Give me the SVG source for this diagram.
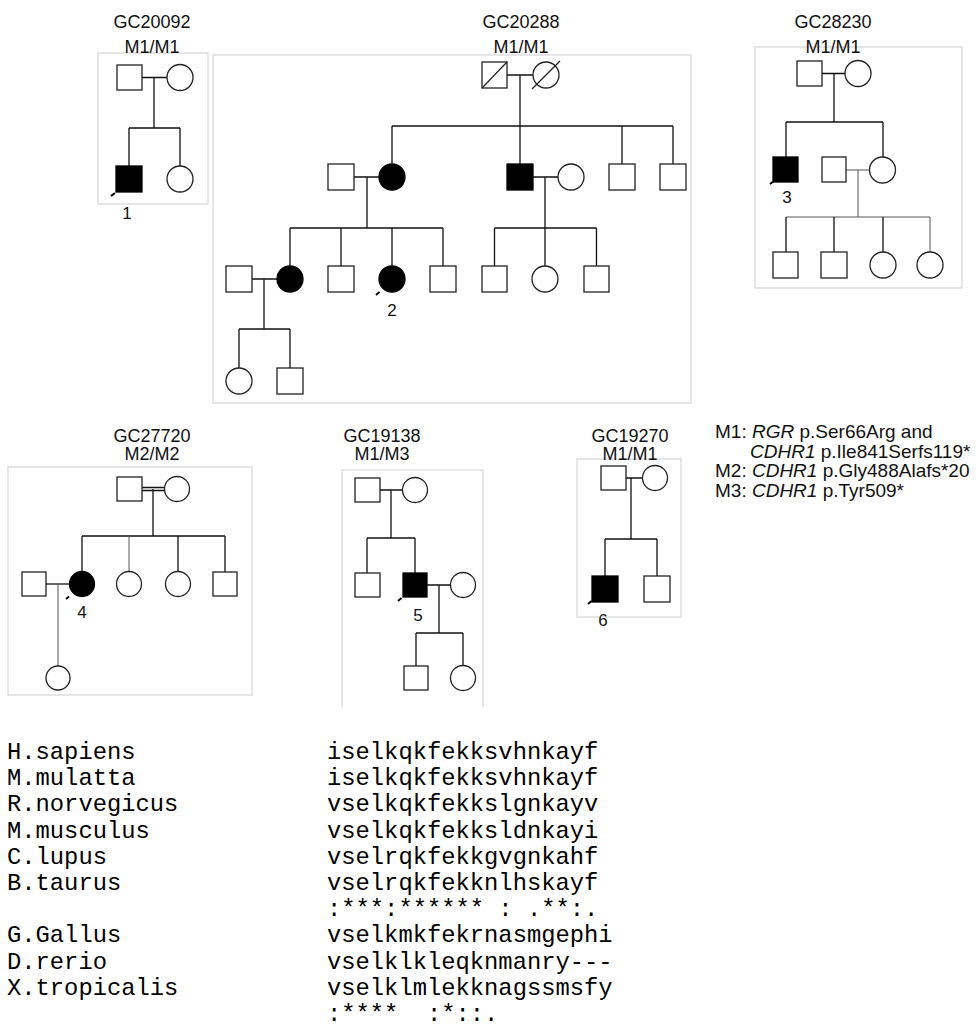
<svg xmlns="http://www.w3.org/2000/svg" width="979" height="1030" viewBox="0 0 979 1030">
<style>
.box{fill:none;stroke:#d6d6d6;stroke-width:1.2}
.sym{fill:#fff;stroke:#222;stroke-width:1.3}
.aff{fill:#000;stroke:#000;stroke-width:1.3}
.ln{fill:none;stroke:#111;stroke-width:1.3}
.thin{fill:none;stroke:#555;stroke-width:1}
.dec{fill:none;stroke:#222;stroke-width:1.2}
.arr{fill:none;stroke:#000;stroke-width:2}
.t{font-family:"Liberation Sans",Arial,sans-serif;font-size:18px;fill:#111;text-anchor:middle}
.lab{font-family:"Liberation Sans",Arial,sans-serif;font-size:17px;fill:#111;text-anchor:middle}
.leg{font-family:"Liberation Sans",Arial,sans-serif;font-size:19px;fill:#111}
.mono{font-family:"Liberation Mono","Courier New",monospace;font-size:23.8px;fill:#000}
</style>
<rect width="979" height="1030" fill="#fff"/>

<!-- Family boxes and titles -->
<g id="fam-GC20092">
<rect class="box" x="98" y="53" width="110" height="151"/>
<text class="t" x="152" y="28">GC20092</text>
<text class="t" x="152" y="53">M1/M1</text>
</g>
<g id="fam-GC20288">
<rect class="box" x="213" y="55" width="478" height="348"/>
<text class="t" x="521" y="28">GC20288</text>
<text class="t" x="521" y="53">M1/M1</text>
</g>
<g id="fam-GC28230">
<rect class="box" x="755" y="47" width="207" height="241"/>
<text class="t" x="833" y="28">GC28230</text>
<text class="t" x="833" y="53">M1/M1</text>
</g>
<g id="fam-GC27720">
<rect class="box" x="8" y="467" width="244" height="228"/>
<text class="t" x="152" y="441.5">GC27720</text>
<text class="t" x="152" y="459.5">M2/M2</text>
</g>
<g id="fam-GC19138">
<path class="box" d="M342 707 V470 H483 V707"/>
<text class="t" x="382" y="441.5">GC19138</text>
<text class="t" x="382" y="459.5">M1/M3</text>
</g>
<g id="fam-GC19270">
<rect class="box" x="577" y="459" width="104" height="158"/>
<text class="t" x="630" y="441.5">GC19270</text>
<text class="t" x="630" y="459.5">M1/M1</text>
</g>

<!-- Connectors -->
<g id="connectors">
<path class="ln" d="M142 77.5 H167 M154 77.5 V128 M129 128 H180 M129 128 V166 M180 128 V166"/>
<path class="ln" d="M507 75 H533 M520 75 V164 M392 126 H673 M392 126 V164 M622 126 V164 M673 126 V164"/>
<path class="ln" d="M354 177 H379 M367 177 V228 M290 228 H443 M290 228 V266 M341 228 V266 M392 228 V266 M443 228 V266"/>
<path class="ln" d="M533 177 H558 M545 177 V266 M494.5 228 H596.5 M494.5 228 V266 M596.5 228 V266"/>
<path class="ln" d="M252 279 H277 M264 279 V329 M239 329 H290 M239 329 V368 M290 329 V368"/>
<path class="ln" d="M822 73.5 H845 M834 73.5 V122 M786 122 H883 M786 122 V157 M883 122 V157"/>
<path class="thin" d="M846 170 H869.5 M858 170 V217 M786 217 H930"/>
<path class="ln" d="M786 217 V252 M834 217 V252 M883 217 V252"/>
<path class="thin" d="M930 217 V252"/>
<path class="ln" d="M142 487.5 H164.5 M142 490.5 H164.5"/>
<path class="ln" d="M153 489 V536 M82 536 H225 M82 536 V571.5 M178 536 V571.5 M225 536 V572"/>
<path class="thin" d="M129 536 V571.5"/>
<path class="ln" d="M46 584 H69.5"/>
<path class="thin" d="M58 584 V666"/>
<path class="ln" d="M380 490 H402.5 M391 490 V538 M367 538 H415 M367 538 V573 M415 538 V573"/>
<path class="ln" d="M427 585 H450.5 M439 585 V633 M416 633 H463 M416 633 V666 M463 633 V665.5"/>
<path class="ln" d="M626 478 H642.5 M631 478 V539 M605 539 H657 M605 539 V576 M657 539 V576"/>
</g>

<!-- Individuals: GC20092 -->
<g id="A1"><rect class="sym" x="117" y="65" width="25" height="25"/></g>
<g id="A2"><circle class="sym" cx="180" cy="77.5" r="13"/></g>
<g id="A3"><rect class="aff" x="116" y="166" width="26" height="26"/><path class="arr" d="M111 196 l4 -3"/><text class="lab" x="127" y="219">1</text></g>
<g id="A4"><circle class="sym" cx="180" cy="179" r="13"/></g>

<!-- GC20288 -->
<g id="B1"><rect class="sym" x="482" y="62" width="25" height="26"/><path class="dec" d="M482 88 L507 62"/></g>
<g id="B2"><circle class="sym" cx="546" cy="75" r="13"/><path class="dec" d="M532 89 L560 61"/></g>
<g id="B3"><rect class="sym" x="328" y="164" width="26" height="26"/></g>
<g id="B4"><circle class="aff" cx="392" cy="177" r="13"/></g>
<g id="B5"><rect class="aff" x="507" y="164" width="26" height="26"/></g>
<g id="B6"><circle class="sym" cx="571" cy="177" r="13"/></g>
<g id="B7"><rect class="sym" x="609" y="164" width="26" height="26"/></g>
<g id="B8"><rect class="sym" x="660" y="164" width="26" height="26"/></g>
<g id="B9"><rect class="sym" x="226" y="266" width="26" height="26"/></g>
<g id="B10"><circle class="aff" cx="290" cy="279" r="13"/></g>
<g id="B11"><rect class="sym" x="328" y="266" width="26" height="26"/></g>
<g id="B12"><circle class="aff" cx="392" cy="279" r="13"/><path class="arr" d="M376 295 l3.5 -3"/><text class="lab" x="392" y="316">2</text></g>
<g id="B13"><rect class="sym" x="430" y="266" width="26" height="26"/></g>
<g id="B14"><rect class="sym" x="482" y="266" width="25" height="26"/></g>
<g id="B15"><circle class="sym" cx="545" cy="279" r="13"/></g>
<g id="B16"><rect class="sym" x="584" y="266" width="25" height="26"/></g>
<g id="B17"><circle class="sym" cx="239" cy="381" r="13"/></g>
<g id="B18"><rect class="sym" x="277" y="368" width="26" height="26"/></g>

<!-- GC28230 -->
<g id="C1"><rect class="sym" x="797" y="61" width="25" height="25"/></g>
<g id="C2"><circle class="sym" cx="858" cy="73.5" r="13"/></g>
<g id="C3"><rect class="aff" x="773" y="157" width="25" height="25"/><path class="arr" d="M770 184 l4 -3"/><text class="lab" x="787" y="203">3</text></g>
<g id="C4"><rect class="sym" x="822" y="157" width="24" height="25"/></g>
<g id="C5"><circle class="sym" cx="882.5" cy="170" r="13"/></g>
<g id="C6"><rect class="sym" x="773" y="252" width="25" height="26"/></g>
<g id="C7"><rect class="sym" x="821" y="252" width="26" height="26"/></g>
<g id="C8"><circle class="sym" cx="883" cy="265" r="13"/></g>
<g id="C9"><circle class="sym" cx="930" cy="265" r="13"/></g>

<!-- GC27720 -->
<g id="D1"><rect class="sym" x="117" y="477" width="25" height="24"/></g>
<g id="D2"><circle class="sym" cx="177" cy="489" r="12.5"/></g>
<g id="D3"><circle class="aff" cx="82" cy="584" r="12.5"/><path class="arr" d="M66 599 l3 -2.5"/><text class="lab" x="82" y="618">4</text></g>
<g id="D4"><circle class="sym" cx="129" cy="584" r="12.5"/></g>
<g id="D5"><circle class="sym" cx="178" cy="584" r="12.5"/></g>
<g id="D6"><rect class="sym" x="213" y="572" width="24" height="24"/></g>
<g id="D7"><rect class="sym" x="22" y="572" width="24" height="24"/></g>
<g id="D8"><circle class="sym" cx="58" cy="678" r="12"/></g>

<!-- GC19138 -->
<g id="E1"><rect class="sym" x="355" y="478" width="25" height="24"/></g>
<g id="E2"><circle class="sym" cx="415" cy="490" r="12.5"/></g>
<g id="E3"><rect class="sym" x="355" y="573" width="25" height="24"/></g>
<g id="E4"><rect class="aff" x="403" y="573" width="24" height="24"/><path class="arr" d="M398 601 l3.5 -3"/><text class="lab" x="418" y="621">5</text></g>
<g id="E5"><circle class="sym" cx="463" cy="585" r="12.5"/></g>
<g id="E6"><rect class="sym" x="404" y="666" width="24" height="24"/></g>
<g id="E7"><circle class="sym" cx="463" cy="678" r="12.5"/></g>

<!-- GC19270 -->
<g id="F1"><rect class="sym" x="601" y="466" width="25" height="24"/></g>
<g id="F2"><circle class="sym" cx="655" cy="478" r="12.5"/></g>
<g id="F3"><rect class="aff" x="592" y="576" width="26" height="26"/><path class="arr" d="M588 604 l3.5 -3"/><text class="lab" x="603" y="626">6</text></g>
<g id="F4"><rect class="sym" x="644" y="576" width="26" height="26"/></g>

<!-- Legend -->
<g id="legend">
<text class="leg" x="715" y="438">M1: <tspan font-style="italic">RGR</tspan> p.Ser66Arg and</text>
<text class="leg" x="750" y="457.5"><tspan font-style="italic">CDHR1</tspan> p.Ile841Serfs119*</text>
<text class="leg" x="715" y="477">M2: <tspan font-style="italic">CDHR1</tspan> p.Gly488Alafs*20</text>
<text class="leg" x="715" y="496.5">M3: <tspan font-style="italic">CDHR1</tspan> p.Tyr509*</text>
</g>

<!-- Alignment -->
<g id="alignment" xml:space="preserve">
<text class="mono" x="7" y="759">H.sapiens</text>
<text class="mono" x="7" y="785.2">M.mulatta</text>
<text class="mono" x="7" y="811.4">R.norvegicus</text>
<text class="mono" x="7" y="837.6">M.musculus</text>
<text class="mono" x="7" y="863.8">C.lupus</text>
<text class="mono" x="7" y="890">B.taurus</text>
<text class="mono" x="7" y="942.4">G.Gallus</text>
<text class="mono" x="7" y="968.6">D.rerio</text>
<text class="mono" x="7" y="994.8">X.tropicalis</text>
<text class="mono" x="327" y="759">iselkqkfekksvhnkayf</text>
<text class="mono" x="327" y="785.2">iselkqkfekksvhnkayf</text>
<text class="mono" x="327" y="811.4">vselkqkfekkslgnkayv</text>
<text class="mono" x="327" y="837.6">vselkqkfekksldnkayi</text>
<text class="mono" x="327" y="863.8">vselrqkfekkgvgnkahf</text>
<text class="mono" x="327" y="890">vselrqkfekknlhskayf</text>
<text class="mono" x="327" y="916.2" xml:space="preserve">:***:****** : .**:.</text>
<text class="mono" x="327" y="942.4">vselkmkfekrnasmgephi</text>
<text class="mono" x="327" y="968.6">vselklkleqknmanry---</text>
<text class="mono" x="327" y="994.8">vselklmlekknagssmsfy</text>
<text class="mono" x="327" y="1021" xml:space="preserve">:****  :*::.</text>
</g>
</svg>
